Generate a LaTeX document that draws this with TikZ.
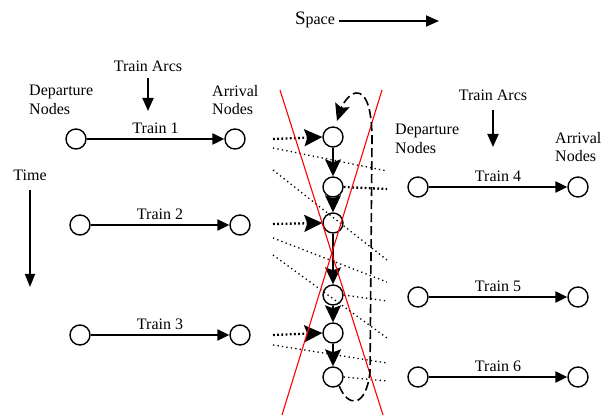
\documentclass[tikz,border=0pt]{standalone}
\usepackage{fontspec}
\setmainfont{Liberation Serif}
\usetikzlibrary{arrows.meta}
\begin{document}
\begin{tikzpicture}[x=1pt,y=-1pt,
  every node/.style={font=\fontsize{16}{18.5}\selectfont},
  nd/.style={circle,draw,line width=1.4pt,minimum size=20pt,inner sep=0pt},
  train/.style={line width=2.3pt,-{Triangle[length=12pt,width=11pt]}},
  lab/.style={inner sep=0pt,anchor=base},
  down/.style={line width=1.8pt,-{Triangle[length=13pt,width=11pt]}},
  flow/.style={line width=1.5pt,-{Stealth[length=17pt,width=16pt,inset=3pt]}},
  thickdot/.style={line width=2.3pt,dash pattern=on 1.8pt off 2.4pt},
  inarrow/.style={thickdot,-{Stealth[length=18pt,width=17pt,inset=3pt]}},
  thindot/.style={line width=1.3pt,dash pattern=on 1.3pt off 3.2pt},
  redline/.style={red,line width=1.1pt},
  loop/.style={line width=1.6pt,dash pattern=on 9pt off 4pt}
]
\useasboundingbox (0,0) rectangle (614,417);

% headers
\node[lab] (space) at (315,25) {{\fontsize{19}{18}\selectfont S}pace};
\coordinate (spacestart) at (339,21);
\coordinate (spaceend) at (439,21);
\draw[line width=1.8pt,-{Triangle[length=13pt,width=11pt]}] (spacestart) -- (spaceend);

\node[lab] (ta1) at (148,72) {Train Arcs};
\coordinate (ta1a) at (148,78);
\coordinate (ta1b) at (148,111);
\draw[down] (ta1a) -- (ta1b);

\node[lab] (ta2) at (493,101) {Train Arcs};
\coordinate (ta2a) at (493,110);
\coordinate (ta2b) at (493,147);
\draw[down] (ta2a) -- (ta2b);

\node[align=left,anchor=north west,inner sep=0pt] (dn1) at (29,85) {Departure\\Nodes};
\node[align=left,anchor=north west,inner sep=0pt] (an1) at (212,85) {Arrival\\Nodes};
\node[align=left,anchor=north west,inner sep=0pt] (dn2) at (395,124) {Departure\\Nodes};
\node[align=left,anchor=north west,inner sep=0pt] (an2) at (555,132) {Arrival\\Nodes};

\node[lab] (time) at (30,181) {Time};
\coordinate (timea) at (30,190);
\coordinate (timeb) at (30,287);
\draw[line width=1.8pt,-{Triangle[length=13pt,width=10pt]}] (timea) -- (timeb);

% left trains
\node[nd] (d1) at (76,139) {};
\node[nd] (a1) at (235,139) {};
\node[nd] (d2) at (80,225) {};
\node[nd] (a2) at (240,225) {};
\node[nd] (d3) at (80,335) {};
\node[nd] (a3) at (240,335) {};
\draw[train] (d1) -- (a1) node[midway,above=1pt] (l1) {Train 1};
\draw[train] (d2) -- (a2) node[midway,above=1pt] (l2) {Train 2};
\draw[train] (d3) -- (a3) node[midway,above=1pt] (l3) {Train 3};

% right trains
\node[nd] (d4) at (418,187) {};
\node[nd] (a4) at (578,187) {};
\node[nd] (d5) at (418,297) {};
\node[nd] (a5) at (578,297) {};
\node[nd] (d6) at (418,377) {};
\node[nd] (a6) at (578,377) {};
\draw[train] (d4) -- (a4) node[midway,above=1pt] (l4) {Train 4};
\draw[train] (d5) -- (a5) node[midway,above=1pt] (l5) {Train 5};
\draw[train] (d6) -- (a6) node[midway,above=1pt] (l6) {Train 6};

% thin dotted diagonals
\coordinate (p1) at (273,148); \coordinate (q1) at (387,171);
\coordinate (p2) at (273,170); \coordinate (q2) at (387,260);
\coordinate (p3) at (273,238); \coordinate (q3) at (387,282);
\coordinate (p4) at (273,255); \coordinate (q4) at (387,338);
\coordinate (p5) at (273,345); \coordinate (q5) at (387,363);
\foreach \i in {1,...,5} \draw[thindot] (p\i) -- (q\i);

% center column
\node[nd] (c1) at (333,137) {};
\node[nd] (c2) at (333,187) {};
\node[nd] (c3) at (333,223) {};
\node[nd] (c4) at (333,295) {};
\node[nd] (c5) at (333,333) {};
\node[nd] (c6) at (333,377) {};
\draw[flow] (c1) -- (c2);
\draw[flow] (c2) -- (c3);
\draw[flow] (c3) -- (c4);
\draw[flow] (c4) -- (c5);
\draw[flow] (c5) -- (c6);

% incoming thick dotted
\coordinate (i1) at (273,139);
\coordinate (i2) at (273,224);
\coordinate (i3) at (273,335);
\draw[inarrow] (i1) -- (c1.west);
\draw[inarrow] (i2) -- (c3.west);
\draw[inarrow] (i3) -- (c5.west);

% outgoing
\coordinate (o2) at (387,189);
\coordinate (o4) at (387,301);
\coordinate (o6) at (387,381);
\draw[thickdot] (c2.east) -- (o2);
\draw[thindot] (c4.east) -- (o4);
\draw[thindot] (c6.east) -- (o6);

% red X
\coordinate (r1a) at (280,90); \coordinate (r1b) at (383,415);
\coordinate (r2a) at (382,90); \coordinate (r2b) at (282,415);
\draw[redline] (r1a) -- (r1b);
\draw[redline] (r2a) -- (r2b);

% dashed loop
\coordinate (lt) at (337,121);
\draw[loop,-{Stealth[length=17pt,width=15pt,inset=3pt]}] (c6.-55) .. controls (348,408) and (366,408) .. (370,372) -- (372,140) .. controls (372,108) and (366,92) .. (356,93) .. controls (348,94) and (342,106) .. (lt);
\end{tikzpicture}
\end{document}
